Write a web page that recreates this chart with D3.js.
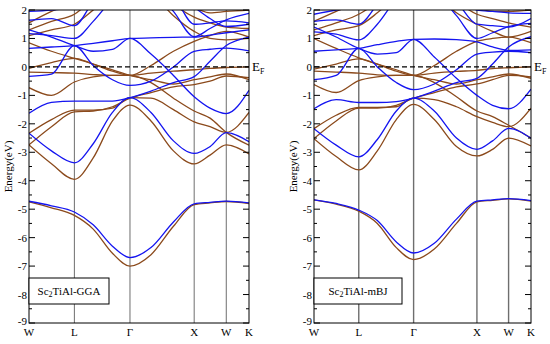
<!DOCTYPE html>
<html lang="en">
<head>
<meta charset="UTF-8">
<script src="https://d3js.org/d3.v7.min.js"></script>
<title>Sc2TiAl band structure</title>
<style>
  body { margin: 0; background: #fff; }
  svg text { font-family: "Liberation Serif", "DejaVu Serif", serif; fill: #000; }
</style>
</head>
<body>
<script>
// k-path: W - L - Gamma - X - W - K (fcc, units of 2pi/a)
const kNames = ["W", "L", "Γ", "X", "W", "K"];
const kTicks = [0, 0.707, 1.573, 2.573, 3.073, 3.427];
const kGrid = [0, 0.35, 0.707, 1.0, 1.3, 1.573, 1.9, 2.25, 2.573, 2.82, 3.073, 3.427];
const yTicks = [2, 1, 0, -1, -2, -3, -4, -5, -6, -7, -8, -9];

// GGA bands (eV), one row per band, values at kGrid
const ggaBlue = [
  [-4.72, -4.88, -5.10, -5.55, -6.30, -6.70, -6.35, -5.45, -4.81, -4.76, -4.72, -4.78],
  [-2.33, -2.95, -3.37, -2.70, -1.60, -1.08, -1.60, -2.60, -3.04, -2.80, -2.31, -2.63],
  [-1.63, -1.25, -1.20, -1.20, -1.20, -1.08, -0.85, -0.55, -0.34, 0.20, 0.75, 1.05],
  [-0.33, -0.25, 0.75, 0.05, -0.45, -0.65, -0.50, 0.00, 0.55, 0.62, 0.66, 0.56],
  [1.30, 1.05, 0.75, 0.55, 0.62, 1.00, 0.45, -0.30, -1.05, -1.45, -1.64, -0.82],
  [0.65, 0.70, 0.75, 0.83, 0.92, 1.00, 1.02, 1.04, 1.05, 1.12, 1.20, 1.30],
  [1.17, 1.10, 1.00, 1.60, 2.40, 3.00, 2.80, 1.95, 1.06, 1.35, 1.65, 1.88],
  [1.64, 1.70, 1.45, 2.30, 3.00, 3.20, 3.00, 2.50, 1.50, 1.55, 1.62, 1.55],
  [1.95, 2.00, 2.10, 2.50, 3.00, 3.20, 3.00, 2.60, 2.10, 1.70, 1.42, 1.50]
];
const ggaBrown = [
  [-4.74, -4.95, -5.22, -5.70, -6.55, -7.00, -6.60, -5.60, -4.84, -4.78, -4.73, -4.80],
  [-2.74, -3.40, -3.95, -3.20, -1.90, -1.34, -1.90, -2.95, -3.41, -3.10, -2.74, -3.06],
  [-2.33, -1.85, -1.52, -1.52, -1.45, -1.08, -1.10, -1.50, -1.93, -2.10, -2.30, -1.60],
  [-2.74, -2.10, -1.58, -1.55, -1.40, -1.10, -0.90, -0.70, -0.62, -0.50, -0.32, -0.38],
  [-0.73, -1.00, -0.53, -0.35, -0.30, -0.30, -0.55, -1.10, -1.55, -1.80, -2.30, -2.75],
  [-0.18, -0.20, -0.22, -0.27, -0.30, -0.30, -0.22, -0.15, -0.10, -0.05, -0.02, 0.00],
  [-0.05, 0.15, 0.30, 0.10, -0.10, -0.30, -0.45, -0.60, -0.45, -0.35, -0.25, -0.45],
  [0.85, 0.55, 0.30, 0.10, -0.15, -0.30, 0.05, 0.55, 0.90, 1.10, 1.25, 1.05],
  [1.10, 1.30, 1.50, 2.00, 2.60, 3.00, 2.60, 1.80, 1.25, 1.00, 0.95, 1.00],
  [1.30, 1.60, 1.85, 2.40, 3.00, 3.20, 2.90, 2.20, 1.75, 1.55, 1.40, 1.35],
  [1.55, 1.95, 2.30, 2.80, 3.20, 3.40, 3.20, 2.60, 2.10, 1.90, 1.95, 2.00]
];

// mBJ bands (eV)
const mbjBlue = [
  [-4.67, -4.80, -5.03, -5.40, -6.15, -6.54, -6.20, -5.35, -4.72, -4.67, -4.63, -4.70],
  [-2.17, -2.75, -3.16, -2.55, -1.55, -1.10, -1.55, -2.50, -2.90, -2.60, -2.16, -2.51],
  [-1.47, -1.15, -1.25, -1.25, -1.22, -1.10, -0.85, -0.55, -0.40, 0.10, 0.70, 1.06],
  [-0.45, -0.30, 0.65, 0.00, -0.55, -0.80, -0.60, -0.10, 0.45, 0.52, 0.55, 0.50],
  [1.40, 1.05, 0.65, 0.45, 0.50, 0.97, 0.35, -0.40, -1.00, -1.35, -1.47, -0.78],
  [0.55, 0.60, 0.65, 0.78, 0.90, 0.97, 0.98, 0.96, 0.88, 0.70, 0.58, 0.60],
  [1.23, 1.15, 0.95, 1.50, 2.40, 3.00, 2.70, 1.80, 1.00, 1.20, 1.42, 1.53],
  [1.60, 1.65, 1.50, 2.20, 3.00, 3.20, 3.00, 2.30, 1.50, 1.45, 1.40, 1.70],
  [1.85, 2.00, 2.10, 2.50, 3.00, 3.20, 3.00, 2.60, 2.00, 1.95, 1.90, 1.88]
];
const mbjBrown = [
  [-4.67, -4.82, -5.07, -5.50, -6.35, -6.77, -6.40, -5.50, -4.74, -4.69, -4.64, -4.72],
  [-2.52, -3.15, -3.62, -2.95, -1.85, -1.32, -1.85, -2.80, -3.13, -2.90, -2.50, -2.78],
  [-2.17, -1.70, -1.42, -1.42, -1.40, -1.10, -1.15, -1.40, -1.75, -1.95, -2.10, -1.45],
  [-2.52, -1.90, -1.45, -1.45, -1.35, -1.10, -0.90, -0.70, -0.60, -0.45, -0.30, -0.35],
  [-0.62, -0.90, -0.48, -0.35, -0.30, -0.30, -0.55, -1.05, -1.55, -1.75, -2.05, -2.50],
  [-0.15, -0.18, -0.22, -0.28, -0.30, -0.30, -0.22, -0.16, -0.12, -0.06, -0.03, 0.00],
  [-0.08, 0.10, 0.28, 0.10, -0.10, -0.30, -0.45, -0.60, -0.45, -0.35, -0.25, -0.40],
  [1.00, 0.65, 0.32, 0.10, -0.15, -0.30, 0.05, 0.55, 0.90, 1.00, 1.05, 0.85],
  [1.10, 1.30, 1.45, 1.90, 2.50, 3.00, 2.60, 1.90, 1.50, 1.25, 1.05, 1.25],
  [1.30, 1.55, 1.85, 2.30, 3.00, 3.20, 2.90, 2.30, 1.85, 1.70, 1.55, 1.40],
  [1.60, 1.95, 2.30, 2.80, 3.20, 3.40, 3.20, 2.60, 2.10, 1.95, 1.95, 2.00]
];

const panels = [
  { name: "GGA", blue: ggaBlue, brown: ggaBrown, x0: 29, x1: 249, labelX: 12 },
  { name: "mBJ", blue: mbjBlue, brown: mbjBrown, x0: 314, x1: 531, labelX: 297 }
];

const W = 550, H = 344;
const yTop = 10, yBottom = 323;
const blueColor = "#1414f0", brownColor = "#8b4a1c";
const serif = "'Liberation Serif', 'DejaVu Serif', serif";

const svg = d3.select("body").append("svg")
    .attr("width", W)
    .attr("height", H)
    .attr("font-family", serif);

const y = d3.scaleLinear().domain([-9, 2]).range([yBottom, yTop]);

panels.forEach((p, i) => {
    const x = d3.scaleLinear().domain([0, 3.427]).range([p.x0, p.x1]);
    const g = svg.append("g");

    svg.append("clipPath").attr("id", "clip" + i)
        .append("rect")
        .attr("x", p.x0).attr("y", yTop)
        .attr("width", p.x1 - p.x0).attr("height", yBottom - yTop);

    // high symmetry lines
    g.selectAll(".kline")
        .data(kTicks.slice(1, -1))
        .enter().append("line")
        .attr("x1", d => x(d)).attr("x2", d => x(d))
        .attr("y1", yTop).attr("y2", yBottom)
        .attr("stroke", "#6e6e6e")
        .attr("stroke-width", i == 0 ? 1 : 1.4);

    const line = d3.line()
        .x((d, j) => x(kGrid[j]))
        .y(d => y(d))
        .curve(d3.curveMonotoneX);

    const bands = g.append("g").attr("clip-path", "url(#clip" + i + ")");

    bands.selectAll(".brown")
        .data(p.brown)
        .enter().append("path")
        .attr("d", line)
        .attr("fill", "none")
        .attr("stroke", brownColor)
        .attr("stroke-width", 1.3);

    bands.selectAll(".blue")
        .data(p.blue)
        .enter().append("path")
        .attr("d", line)
        .attr("fill", "none")
        .attr("stroke", blueColor)
        .attr("stroke-width", 1.3);

    // Fermi level
    g.append("line")
        .attr("x1", p.x0).attr("x2", p.x1)
        .attr("y1", y(0)).attr("y2", y(0))
        .attr("stroke", "#000")
        .attr("stroke-width", 1.4)
        .attr("stroke-dasharray", "5,3");

    const ef = g.append("text")
        .attr("x", p.x1 + 3)
        .attr("y", y(0) + 4)
        .attr("font-size", 13);
    ef.append("tspan").text("E");
    ef.append("tspan").attr("dy", 3).attr("font-size", 8).text("F");

    // frame
    g.append("rect")
        .attr("x", p.x0).attr("y", yTop)
        .attr("width", p.x1 - p.x0).attr("height", yBottom - yTop)
        .attr("fill", "none")
        .attr("stroke", "#000")
        .attr("stroke-width", 1);

    // y ticks (inward on both sides), minor at halves
    const minor = d3.range(-8.5, 2, 1);
    [[p.x0, 1], [p.x1, -1]].forEach(([sx, dir]) => {
        g.selectAll(null).data(yTicks).enter().append("line")
            .attr("x1", sx).attr("x2", sx + dir * 6)
            .attr("y1", d => y(d)).attr("y2", d => y(d))
            .attr("stroke", "#000");
        g.selectAll(null).data(minor).enter().append("line")
            .attr("x1", sx).attr("x2", sx + dir * 3)
            .attr("y1", d => y(d)).attr("y2", d => y(d))
            .attr("stroke", "#000");
    });

    g.selectAll(null).data(yTicks).enter().append("text")
        .attr("x", p.x0 - 2)
        .attr("y", d => y(d) + (d == -9 ? 2 : 4))
        .attr("text-anchor", "end")
        .attr("font-size", 11)
        .text(d => d < 0 ? "-" + Math.abs(d) : d);

    g.selectAll(null).data(kTicks).enter().append("text")
        .attr("x", d => x(d))
        .attr("y", yBottom + 13)
        .attr("text-anchor", "middle")
        .attr("font-size", 11)
        .text((d, j) => kNames[j]);

    g.append("text")
        .attr("transform", "translate(" + p.labelX + "," + (yTop + yBottom) / 2 + ") rotate(-90)")
        .attr("text-anchor", "middle")
        .attr("font-size", 11)
        .text("Energy(eV)");

    // legend box
    const bx = p.x0, bw = i == 0 ? 80 : 88;
    g.append("rect")
        .attr("x", bx).attr("y", 278)
        .attr("width", bw).attr("height", 26)
        .attr("fill", "#fff")
        .attr("stroke", "#000")
        .attr("stroke-width", 1);
    const lt = g.append("text")
        .attr("x", bx + bw / 2)
        .attr("y", 295)
        .attr("text-anchor", "middle")
        .attr("font-size", 11);
    lt.append("tspan").text("Sc");
    lt.append("tspan").attr("font-size", 8).attr("dy", 2).text("2");
    lt.append("tspan").attr("dy", -2).text("TiAl-" + p.name);
});
</script>
</body>
</html>
